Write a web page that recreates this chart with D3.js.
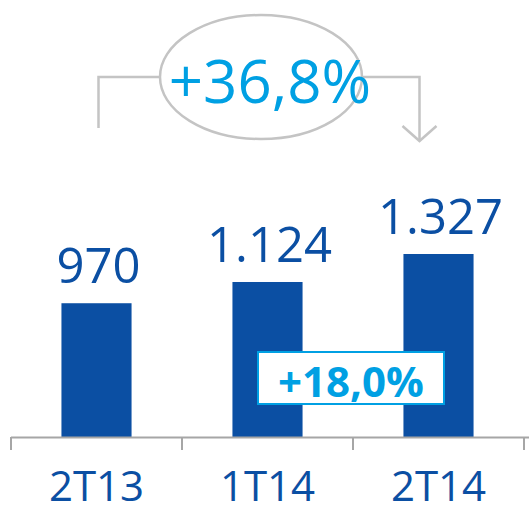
<!DOCTYPE html>
<html>
<head>
<meta charset="utf-8">
<script src="https://cdn.jsdelivr.net/npm/d3@7"></script>
<style>
  body { margin: 0; background: #fff; }
  svg { display: block; font-family: "Open Sans", sans-serif; }
</style>
</head>
<body>
<div id="figure"></div>
<script>
var categories = ["2T13", "1T14", "2T14"];
var values = [970, 1124, 1327];
var valueLabels = ["970", "1.124", "1.327"];
var totalGrowth = "+36,8%";
var lastGrowth = "+18,0%";

var w = 529, h = 505;
var navy = "#0b4fa3", cyan = "#00a0e3", grey = "#c4c4c4";

var svg = d3.select("#figure").append("svg").attr("width", w).attr("height", h);

var x = d3.scaleBand().domain(categories).range([11, 524]).paddingInner(0.59).paddingOuter(0.295);
var y = d3.scaleLinear().domain([0, d3.max(values)]).range([437, 254]);

// bars
svg.selectAll("rect.bar")
  .data(values)
  .enter()
  .append("rect")
  .attr("class", "bar")
  .attr("x", function(d, i) { return x(categories[i]); })
  .attr("y", function(d) { return y(d); })
  .attr("width", x.bandwidth())
  .attr("height", function(d) { return y(0) - y(d); })
  .attr("fill", navy);

// value labels
svg.selectAll("text.val")
  .data(values)
  .enter()
  .append("text")
  .attr("class", "val")
  .attr("x", function(d, i) { return x(categories[i]) + x.bandwidth() / 2 + 2; })
  .attr("y", function(d) { return y(d) - 20; })
  .attr("text-anchor", "middle")
  .attr("font-size", "49px")
  .attr("fill", navy)
  .text(function(d, i) { return valueLabels[i]; });

// axis line + ticks at band edges
var step = x.step();
var edges = categories.map(function(c) { return x(c) - step * x.paddingOuter(); });
edges.push(edges[edges.length - 1] + step);
svg.append("line")
  .attr("x1", 11).attr("x2", w)
  .attr("y1", y(0) + 0.5).attr("y2", y(0) + 0.5)
  .attr("stroke", "#a6a6a6").attr("stroke-width", 2);
svg.selectAll("line.tick")
  .data(edges)
  .enter()
  .append("line")
  .attr("class", "tick")
  .attr("x1", function(d) { return d; }).attr("x2", function(d) { return d; })
  .attr("y1", y(0)).attr("y2", y(0) + 13)
  .attr("stroke", "#a6a6a6").attr("stroke-width", 2);

// category labels
svg.selectAll("text.cat")
  .data(categories)
  .enter()
  .append("text")
  .attr("class", "cat")
  .attr("x", function(c) { return x(c) + x.bandwidth() / 2; })
  .attr("y", 501)
  .attr("text-anchor", "middle")
  .attr("font-size", "42px")
  .attr("fill", navy)
  .text(function(c) { return c; });

// bracket from first to last bar with ellipse
var x0 = x(categories[0]) + x.bandwidth() / 2;
var x2 = x(categories[2]) + x.bandwidth() / 2 - 19;
var cx = 261, cy = 77, rx = 101, ry = 62;
svg.append("path")
  .attr("d", "M" + (x0 + 2) + ",128 V77 H" + (cx - rx))
  .attr("fill", "none").attr("stroke", grey).attr("stroke-width", 2.5);
svg.append("path")
  .attr("d", "M" + (cx + rx) + ",77 H" + x2 + " V141")
  .attr("fill", "none").attr("stroke", grey).attr("stroke-width", 2.5);
svg.append("path")
  .attr("d", "M" + (x2 - 17) + ",126 L" + x2 + ",141 L" + (x2 + 17) + ",126")
  .attr("fill", "none").attr("stroke", grey).attr("stroke-width", 2.5);
svg.append("ellipse")
  .attr("cx", cx).attr("cy", cy).attr("rx", rx).attr("ry", ry)
  .attr("fill", "none").attr("stroke", grey).attr("stroke-width", 2.5);
svg.append("text")
  .attr("x", 270).attr("y", 103)
  .attr("text-anchor", "middle")
  .attr("font-size", "60px")
  .attr("fill", cyan)
  .text(totalGrowth);

// growth box
svg.append("rect")
  .attr("x", 258).attr("y", 352).attr("width", 186).attr("height", 52)
  .attr("fill", "#fff").attr("stroke", cyan).attr("stroke-width", 2);
svg.append("text")
  .attr("x", 351).attr("y", 397)
  .attr("text-anchor", "middle")
  .attr("font-size", "42px")
  .attr("font-weight", "bold")
  .attr("fill", cyan)
  .text(lastGrowth);
</script>
</body>
</html>
